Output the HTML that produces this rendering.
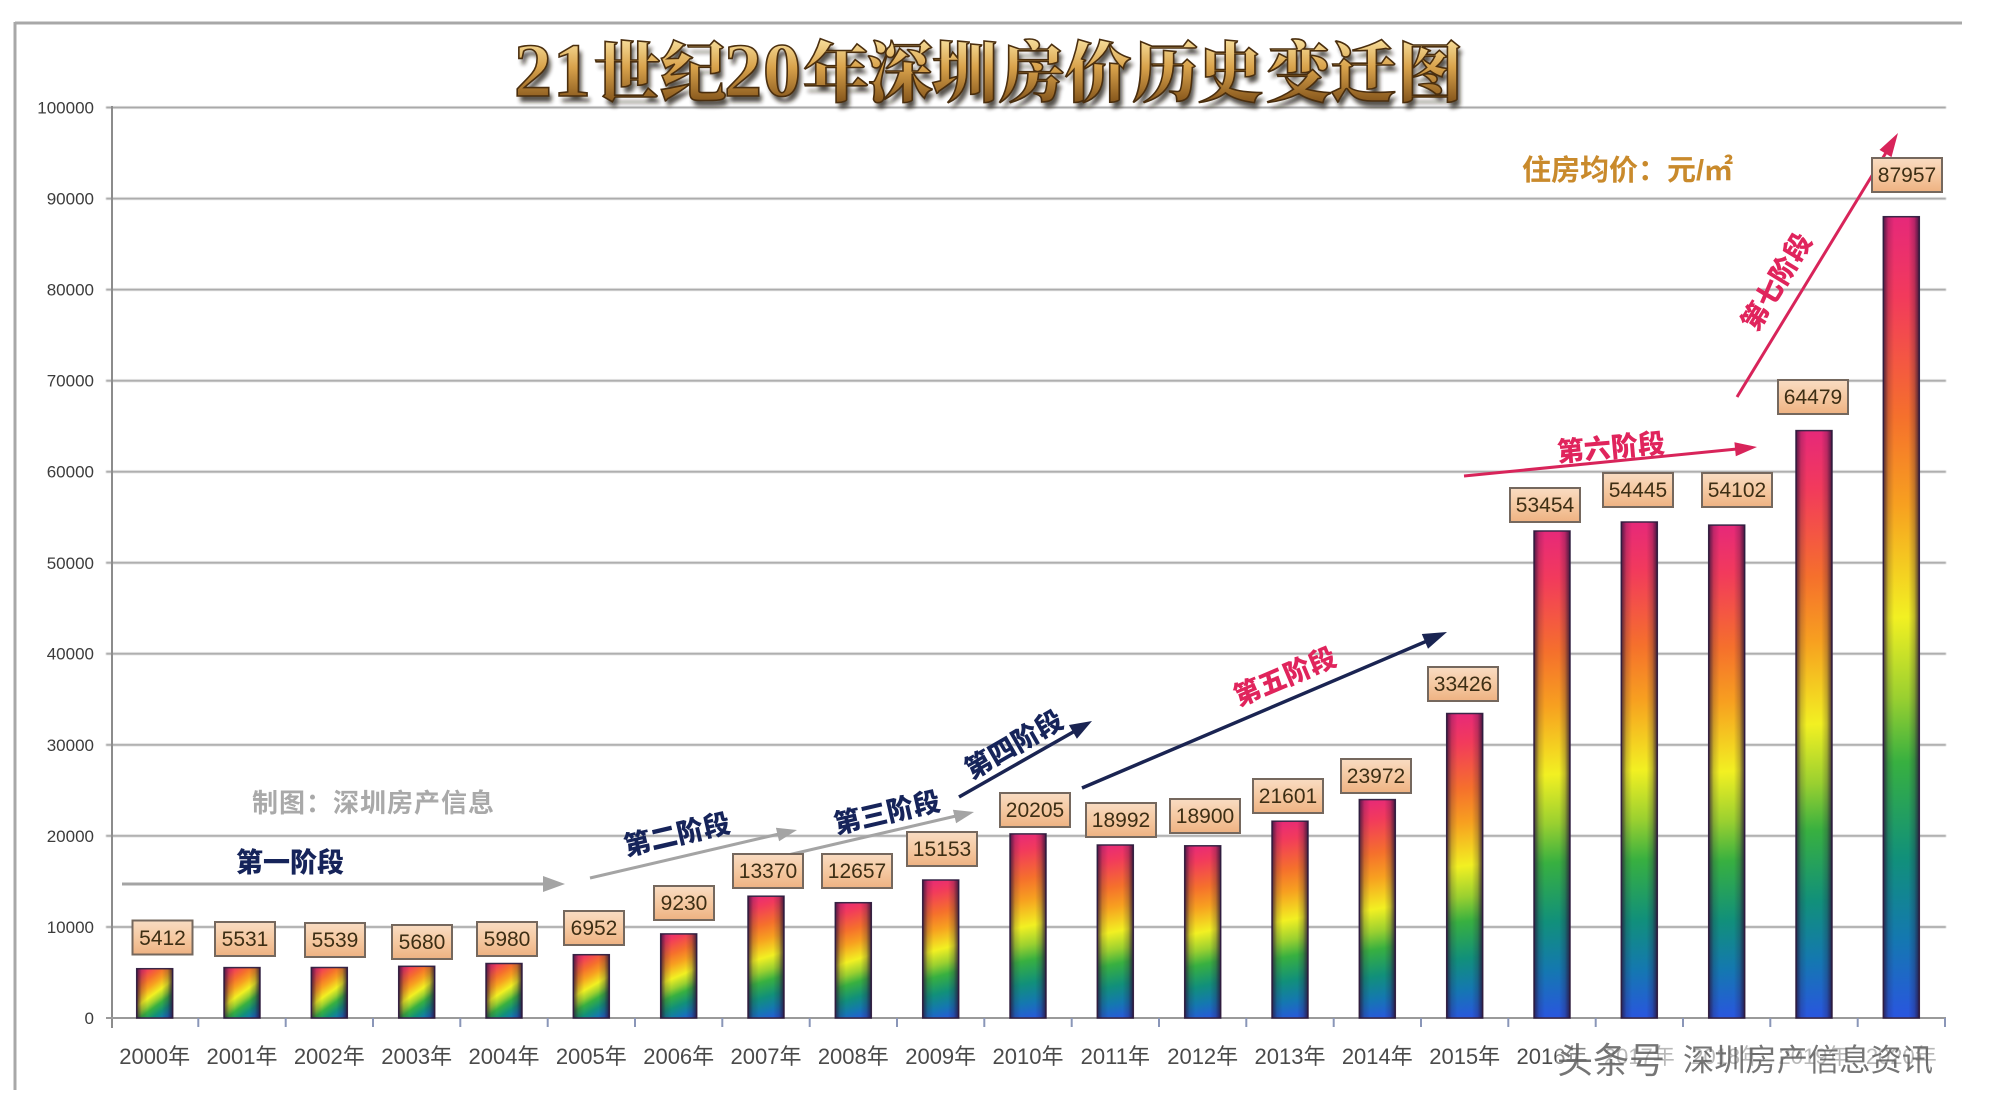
<!DOCTYPE html>
<html><head><meta charset="utf-8"><style>
html,body{margin:0;padding:0;background:#fff;}
svg{display:block;}
</style></head><body>
<svg width="2002" height="1108" viewBox="0 0 2002 1108" xmlns="http://www.w3.org/2000/svg" xmlns:xlink="http://www.w3.org/1999/xlink">
<defs>
<linearGradient id="rb" x1="0" y1="0" x2="1" y2="1">
<stop offset="0" stop-color="#e6287a"/>
<stop offset="0.1" stop-color="#f23a5c"/>
<stop offset="0.25" stop-color="#f5702c"/>
<stop offset="0.36" stop-color="#f7a020"/>
<stop offset="0.5" stop-color="#f2f022"/>
<stop offset="0.6" stop-color="#9ad030"/>
<stop offset="0.68" stop-color="#38b040"/>
<stop offset="0.8" stop-color="#11907a"/>
<stop offset="0.9" stop-color="#1478b0"/>
<stop offset="1" stop-color="#2a55e0"/>
</linearGradient>
<linearGradient id="edge" x1="0" y1="0" x2="1" y2="0">
<stop offset="0" stop-color="#281438" stop-opacity="0.8"/>
<stop offset="0.14" stop-color="#281438" stop-opacity="0.2"/>
<stop offset="0.3" stop-color="#281438" stop-opacity="0"/>
<stop offset="0.7" stop-color="#281438" stop-opacity="0"/>
<stop offset="0.86" stop-color="#281438" stop-opacity="0.25"/>
<stop offset="1" stop-color="#281438" stop-opacity="0.85"/>
</linearGradient>
<linearGradient id="lb" x1="0" y1="0" x2="0" y2="1">
<stop offset="0" stop-color="#f9dcc2"/>
<stop offset="0.5" stop-color="#f5c9a2"/>
<stop offset="1" stop-color="#eeb282"/>
</linearGradient>
<linearGradient id="tg" x1="0" y1="40" x2="0" y2="100" gradientUnits="userSpaceOnUse">
<stop offset="0" stop-color="#f6dc98"/>
<stop offset="0.45" stop-color="#d9a34c"/>
<stop offset="1" stop-color="#8a5a1e"/>
</linearGradient>
<filter id="blur" x="-5%" y="-20%" width="110%" height="140%"><feGaussianBlur stdDeviation="2"/></filter>
<filter id="soft"><feGaussianBlur stdDeviation="0.6"/></filter>
<linearGradient id="g0" xlink:href="#rb" gradientUnits="userSpaceOnUse" x1="136.7" y1="968.7" x2="172.7" y2="1018"/>
<linearGradient id="g1" xlink:href="#rb" gradientUnits="userSpaceOnUse" x1="224" y1="967.6" x2="260" y2="1018"/>
<linearGradient id="g2" xlink:href="#rb" gradientUnits="userSpaceOnUse" x1="311.3" y1="967.5" x2="347.3" y2="1018"/>
<linearGradient id="g3" xlink:href="#rb" gradientUnits="userSpaceOnUse" x1="398.7" y1="966.3" x2="434.7" y2="1018"/>
<linearGradient id="g4" xlink:href="#rb" gradientUnits="userSpaceOnUse" x1="486" y1="963.5" x2="522" y2="1018"/>
<linearGradient id="g5" xlink:href="#rb" gradientUnits="userSpaceOnUse" x1="573.3" y1="954.7" x2="609.3" y2="1018"/>
<linearGradient id="g6" xlink:href="#rb" gradientUnits="userSpaceOnUse" x1="660.7" y1="933.9" x2="696.7" y2="1018"/>
<linearGradient id="g7" xlink:href="#rb" gradientUnits="userSpaceOnUse" x1="748" y1="896.2" x2="784" y2="1018"/>
<linearGradient id="g8" xlink:href="#rb" gradientUnits="userSpaceOnUse" x1="835.3" y1="902.7" x2="871.3" y2="1018"/>
<linearGradient id="g9" xlink:href="#rb" gradientUnits="userSpaceOnUse" x1="922.7" y1="880" x2="958.7" y2="1018"/>
<linearGradient id="g10" xlink:href="#rb" gradientUnits="userSpaceOnUse" x1="1010" y1="833.9" x2="1046" y2="1018"/>
<linearGradient id="g11" xlink:href="#rb" gradientUnits="userSpaceOnUse" x1="1097.3" y1="845" x2="1133.3" y2="1018"/>
<linearGradient id="g12" xlink:href="#rb" gradientUnits="userSpaceOnUse" x1="1184.7" y1="845.8" x2="1220.7" y2="1018"/>
<linearGradient id="g13" xlink:href="#rb" gradientUnits="userSpaceOnUse" x1="1272" y1="821.2" x2="1308" y2="1018"/>
<linearGradient id="g14" xlink:href="#rb" gradientUnits="userSpaceOnUse" x1="1359.3" y1="799.6" x2="1395.3" y2="1018"/>
<linearGradient id="g15" xlink:href="#rb" gradientUnits="userSpaceOnUse" x1="1446.7" y1="713.5" x2="1482.7" y2="1018"/>
<linearGradient id="g16" xlink:href="#rb" gradientUnits="userSpaceOnUse" x1="1534" y1="531" x2="1570" y2="1018"/>
<linearGradient id="g17" xlink:href="#rb" gradientUnits="userSpaceOnUse" x1="1621.3" y1="522" x2="1657.3" y2="1018"/>
<linearGradient id="g18" xlink:href="#rb" gradientUnits="userSpaceOnUse" x1="1708.7" y1="525.1" x2="1744.7" y2="1018"/>
<linearGradient id="g19" xlink:href="#rb" gradientUnits="userSpaceOnUse" x1="1796" y1="430.6" x2="1832" y2="1018"/>
<linearGradient id="g20" xlink:href="#rb" gradientUnits="userSpaceOnUse" x1="1883.3" y1="216.7" x2="1919.3" y2="1018"/>
</defs>

<rect x="0" y="0" width="2002" height="1108" fill="#fff"/>

<!-- frame -->
<line x1="15" y1="23" x2="1962" y2="23" stroke="#a8a8a8" stroke-width="3"/>
<line x1="15" y1="22" x2="15" y2="1090" stroke="#a8a8a8" stroke-width="3"/>

<!-- gridlines -->
<g stroke="#a2a2a2" stroke-width="2" filter="url(#soft)">
<line x1="106" y1="107.5" x2="1946" y2="107.5"/>
<line x1="106" y1="198.6" x2="1946" y2="198.6"/>
<line x1="106" y1="289.6" x2="1946" y2="289.6"/>
<line x1="106" y1="380.7" x2="1946" y2="380.7"/>
<line x1="106" y1="471.7" x2="1946" y2="471.7"/>
<line x1="106" y1="562.8" x2="1946" y2="562.8"/>
<line x1="106" y1="653.7" x2="1946" y2="653.7"/>
<line x1="106" y1="744.9" x2="1946" y2="744.9"/>
<line x1="106" y1="835.9" x2="1946" y2="835.9"/>
<line x1="106" y1="927" x2="1946" y2="927"/>
</g>
<!-- axes -->
<line x1="112" y1="106" x2="112" y2="1028" stroke="#8c8c8c" stroke-width="2"/>
<line x1="106" y1="1018" x2="1946" y2="1018" stroke="#9a9a9a" stroke-width="2"/>
<g stroke="#8a96b8" stroke-width="2">
<line x1="198.3" y1="1018" x2="198.3" y2="1027"/><line x1="285.7" y1="1018" x2="285.7" y2="1027"/>
<line x1="373" y1="1018" x2="373" y2="1027"/><line x1="460.3" y1="1018" x2="460.3" y2="1027"/>
<line x1="547.7" y1="1018" x2="547.7" y2="1027"/><line x1="635" y1="1018" x2="635" y2="1027"/>
<line x1="722.3" y1="1018" x2="722.3" y2="1027"/><line x1="809.7" y1="1018" x2="809.7" y2="1027"/>
<line x1="897" y1="1018" x2="897" y2="1027"/><line x1="984.3" y1="1018" x2="984.3" y2="1027"/>
<line x1="1071.7" y1="1018" x2="1071.7" y2="1027"/><line x1="1159" y1="1018" x2="1159" y2="1027"/>
<line x1="1246.3" y1="1018" x2="1246.3" y2="1027"/><line x1="1333.7" y1="1018" x2="1333.7" y2="1027"/>
<line x1="1421" y1="1018" x2="1421" y2="1027"/><line x1="1508.3" y1="1018" x2="1508.3" y2="1027"/>
<line x1="1595.7" y1="1018" x2="1595.7" y2="1027"/><line x1="1683" y1="1018" x2="1683" y2="1027"/>
<line x1="1770.3" y1="1018" x2="1770.3" y2="1027"/><line x1="1857.7" y1="1018" x2="1857.7" y2="1027"/>
<line x1="1945" y1="1018" x2="1945" y2="1027"/>
</g>

<!-- y labels -->
<g font-family="Liberation Sans, sans-serif" font-size="17" fill="#3c3c3c" text-anchor="end">
<text x="94" y="113.5">100000</text>
<text x="94" y="204.6">90000</text>
<text x="94" y="295.6">80000</text>
<text x="94" y="386.7">70000</text>
<text x="94" y="477.7">60000</text>
<text x="94" y="568.8">50000</text>
<text x="94" y="659.7">40000</text>
<text x="94" y="750.9">30000</text>
<text x="94" y="841.9">20000</text>
<text x="94" y="933">10000</text>
<text x="94" y="1024">0</text>
</g>

<!-- title -->
<g font-weight="900">
<text y="100" transform="translate(3,2)" fill="#1e1408" opacity="0.75" filter="url(#blur)"><tspan font-family="Liberation Serif, serif" font-size="76" x="514 553">21</tspan><tspan font-family="Noto Serif CJK SC, serif" font-size="66" x="594 660">世纪</tspan><tspan font-family="Liberation Serif, serif" font-size="76" x="724 763">20</tspan><tspan font-family="Noto Serif CJK SC, serif" font-size="66" x="803 867 932 999 1065 1132 1197 1266 1330 1397">年深圳房价历史变迁图</tspan></text>
<text y="96" fill="url(#tg)" stroke="#4a2e0e" stroke-width="1.6"><tspan font-family="Liberation Serif, serif" font-size="76" x="514 553">21</tspan><tspan font-family="Noto Serif CJK SC, serif" font-size="66" x="594 660">世纪</tspan><tspan font-family="Liberation Serif, serif" font-size="76" x="724 763">20</tspan><tspan font-family="Noto Serif CJK SC, serif" font-size="66" x="803 867 932 999 1065 1132 1197 1266 1330 1397">年深圳房价历史变迁图</tspan></text>
</g>

<!-- unit -->
<text x="1522" y="180" font-family="Liberation Sans, Noto Sans CJK SC, sans-serif" font-size="29" font-weight="bold" fill="#c98a2c">住房均价：元/㎡</text>

<!-- credit -->
<text x="252" y="812" font-family="Liberation Sans, Noto Sans CJK SC, sans-serif" font-size="26" font-weight="bold" fill="#a9a9a9" letter-spacing="1">制图：深圳房产信息</text>

<!-- bars -->
<g stroke="#3a2848" stroke-width="1.5">
<rect x="136.7" y="968.7" width="36" height="49.3" fill="url(#g0)"/>
<rect x="224" y="967.6" width="36" height="50.4" fill="url(#g1)"/>
<rect x="311.3" y="967.5" width="36" height="50.5" fill="url(#g2)"/>
<rect x="398.7" y="966.3" width="36" height="51.7" fill="url(#g3)"/>
<rect x="486" y="963.5" width="36" height="54.5" fill="url(#g4)"/>
<rect x="573.3" y="954.7" width="36" height="63.3" fill="url(#g5)"/>
<rect x="660.7" y="933.9" width="36" height="84.1" fill="url(#g6)"/>
<rect x="748" y="896.2" width="36" height="121.8" fill="url(#g7)"/>
<rect x="835.3" y="902.7" width="36" height="115.3" fill="url(#g8)"/>
<rect x="922.7" y="880" width="36" height="138" fill="url(#g9)"/>
<rect x="1010" y="833.9" width="36" height="184.1" fill="url(#g10)"/>
<rect x="1097.3" y="845" width="36" height="173" fill="url(#g11)"/>
<rect x="1184.7" y="845.8" width="36" height="172.2" fill="url(#g12)"/>
<rect x="1272" y="821.2" width="36" height="196.8" fill="url(#g13)"/>
<rect x="1359.3" y="799.6" width="36" height="218.4" fill="url(#g14)"/>
<rect x="1446.7" y="713.5" width="36" height="304.5" fill="url(#g15)"/>
<rect x="1534" y="531" width="36" height="487" fill="url(#g16)"/>
<rect x="1621.3" y="522" width="36" height="496" fill="url(#g17)"/>
<rect x="1708.7" y="525.1" width="36" height="492.9" fill="url(#g18)"/>
<rect x="1796" y="430.6" width="36" height="587.4" fill="url(#g19)"/>
<rect x="1883.3" y="216.7" width="36" height="801.3" fill="url(#g20)"/>
</g>
<g fill="url(#edge)">
<rect x="136.7" y="968.7" width="36" height="49.3"/>
<rect x="224" y="967.6" width="36" height="50.4"/>
<rect x="311.3" y="967.5" width="36" height="50.5"/>
<rect x="398.7" y="966.3" width="36" height="51.7"/>
<rect x="486" y="963.5" width="36" height="54.5"/>
<rect x="573.3" y="954.7" width="36" height="63.3"/>
<rect x="660.7" y="933.9" width="36" height="84.1"/>
<rect x="748" y="896.2" width="36" height="121.8"/>
<rect x="835.3" y="902.7" width="36" height="115.3"/>
<rect x="922.7" y="880" width="36" height="138"/>
<rect x="1010" y="833.9" width="36" height="184.1"/>
<rect x="1097.3" y="845" width="36" height="173"/>
<rect x="1184.7" y="845.8" width="36" height="172.2"/>
<rect x="1272" y="821.2" width="36" height="196.8"/>
<rect x="1359.3" y="799.6" width="36" height="218.4"/>
<rect x="1446.7" y="713.5" width="36" height="304.5"/>
<rect x="1534" y="531" width="36" height="487"/>
<rect x="1621.3" y="522" width="36" height="496"/>
<rect x="1708.7" y="525.1" width="36" height="492.9"/>
<rect x="1796" y="430.6" width="36" height="587.4"/>
<rect x="1883.3" y="216.7" width="36" height="801.3"/>
</g>

<!-- phase arrows -->
<g stroke="#a4a4a4" stroke-width="3" fill="none">
<line x1="122" y1="884" x2="545" y2="884"/>
<line x1="590" y1="878" x2="779" y2="834"/>
<line x1="788" y1="855" x2="956" y2="816"/>
</g>
<g fill="#a4a4a4">
<polygon points="565,884 543,876 543,892"/>
<polygon points="797,830 779.1,841.3 775.9,827.7"/>
<polygon points="974,812 956.1,823.3 952.9,809.7"/>
</g>
<g stroke="#1a2452" stroke-width="3.5" fill="none">
<line x1="959" y1="797" x2="1075" y2="731"/>
<line x1="1082" y1="788" x2="1427" y2="641"/>
</g>
<g fill="#1a2452">
<polygon points="1092,721 1076.9,738.8 1068.9,725"/>
<polygon points="1447,632 1428,648.8 1421.8,634"/>
</g>
<g stroke="#d8245a" stroke-width="3" fill="none">
<line x1="1464" y1="476" x2="1737" y2="449"/>
<line x1="1737" y1="397" x2="1887" y2="151"/>
</g>
<g fill="#d8245a">
<polygon points="1757,447 1735.8,456.2 1734.4,442.2"/>
<polygon points="1898,133 1891.5,157.1 1879.5,149.9"/>
</g>

<!-- phase labels -->
<g font-family="Liberation Sans, Noto Sans CJK SC, sans-serif" font-weight="900" font-size="27" text-anchor="middle" dominant-baseline="central">
<text x="290" y="863" fill="#16245a">第一阶段</text>
<text x="677" y="835" fill="#16245a" transform="rotate(-13 677 835)">第二阶段</text>
<text x="887" y="813" fill="#16245a" transform="rotate(-13 887 813)">第三阶段</text>
<text x="1014" y="745" fill="#16245a" transform="rotate(-30 1014 745)">第四阶段</text>
<text x="1285" y="677" fill="#e0245c" transform="rotate(-23 1285 677)">第五阶段</text>
<text x="1611" y="448" fill="#e0245c" transform="rotate(-5 1611 448)">第六阶段</text>
<text x="1777" y="282" fill="#e0245c" transform="rotate(-58.6 1777 282)">第七阶段</text>
</g>

<!-- data labels -->
<g fill="url(#lb)" stroke="#75685e" stroke-width="2">
<rect x="132.5" y="920.5" width="60" height="34"/>
<rect x="215" y="922" width="60" height="34"/>
<rect x="305" y="923" width="60" height="34"/>
<rect x="392" y="925" width="60" height="34"/>
<rect x="477" y="922" width="60" height="34"/>
<rect x="564" y="911" width="60" height="34"/>
<rect x="654" y="886" width="60" height="34"/>
<rect x="733" y="854" width="70" height="34"/>
<rect x="822" y="854" width="70" height="34"/>
<rect x="907" y="832" width="70" height="34"/>
<rect x="1000" y="793" width="70" height="34"/>
<rect x="1086" y="803" width="70" height="34"/>
<rect x="1170" y="799" width="70" height="34"/>
<rect x="1253" y="779" width="70" height="34"/>
<rect x="1341" y="759" width="70" height="34"/>
<rect x="1428" y="667" width="70" height="34"/>
<rect x="1510" y="488" width="70" height="34"/>
<rect x="1603" y="473" width="70" height="34"/>
<rect x="1702" y="473" width="70" height="34"/>
<rect x="1778" y="380" width="70" height="34"/>
<rect x="1872" y="158" width="70" height="34"/>
</g>
<g font-family="Liberation Sans, sans-serif" font-size="21" fill="#3d2e14" text-anchor="middle">
<text x="162.5" y="945">5412</text>
<text x="245" y="946">5531</text>
<text x="335" y="947">5539</text>
<text x="422" y="949">5680</text>
<text x="507" y="946">5980</text>
<text x="594" y="935">6952</text>
<text x="684" y="910">9230</text>
<text x="768" y="878">13370</text>
<text x="857" y="878">12657</text>
<text x="942" y="856">15153</text>
<text x="1035" y="817">20205</text>
<text x="1121" y="827">18992</text>
<text x="1205" y="823">18900</text>
<text x="1288" y="803">21601</text>
<text x="1376" y="783">23972</text>
<text x="1463" y="691">33426</text>
<text x="1545" y="512">53454</text>
<text x="1638" y="497">54445</text>
<text x="1737" y="497">54102</text>
<text x="1813" y="404">64479</text>
<text x="1907" y="182">87957</text>
</g>

<!-- x labels -->
<g font-family="Liberation Sans, Noto Sans CJK SC, sans-serif" font-size="22" fill="#4a4a4a" text-anchor="middle">
<text x="154.7" y="1064">2000年</text>
<text x="242" y="1064">2001年</text>
<text x="329.3" y="1064">2002年</text>
<text x="416.7" y="1064">2003年</text>
<text x="504" y="1064">2004年</text>
<text x="591.3" y="1064">2005年</text>
<text x="678.7" y="1064">2006年</text>
<text x="766" y="1064">2007年</text>
<text x="853.3" y="1064">2008年</text>
<text x="940.7" y="1064">2009年</text>
<text x="1028" y="1064">2010年</text>
<text x="1115.3" y="1064">2011年</text>
<text x="1202.7" y="1064">2012年</text>
<text x="1290" y="1064">2013年</text>
<text x="1377.3" y="1064">2014年</text>
<text x="1464.7" y="1064">2015年</text>
<text x="1552" y="1064">2016年</text>
<text x="1639.3" y="1064" opacity="0.6">2017年</text>
<text x="1726.7" y="1064" opacity="0.6">2018年</text>
<text x="1814" y="1064" opacity="0.6">2019年</text>
<text x="1901.3" y="1064" opacity="0.6">2020年</text>
</g>
<!-- watermark -->
<rect x="1556" y="1038" width="380" height="40" fill="#fff" opacity="0.35"/>
<g font-family="Liberation Sans, Noto Sans CJK SC, sans-serif" fill="#5e5e5e" opacity="0.85">
<text x="1557" y="1073" font-size="36">头条号</text>
<text x="1683" y="1071" font-size="31" textLength="250" lengthAdjust="spacingAndGlyphs">深圳房产信息资讯</text>
</g>
</svg>
</body></html>
